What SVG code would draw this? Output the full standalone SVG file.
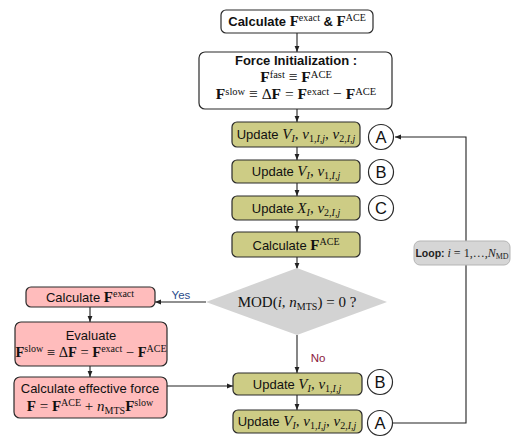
<svg xmlns="http://www.w3.org/2000/svg" width="522" height="446" viewBox="0 0 522 446">
<defs>
<marker id="ah" viewBox="0 0 10 10" refX="10" refY="5" markerWidth="6" markerHeight="6" orient="auto" markerUnits="userSpaceOnUse">
<path d="M0,1 L10,5 L0,9 z" fill="#222"/>
</marker>
<style>
.box{stroke:#2a2a2a;stroke-width:1.2}
.w{fill:#ffffff}
.o{fill:#cdcc85}
.p{fill:#ffbcbc}
.t{font-family:"Liberation Sans",Arial,sans-serif;font-size:13px;fill:#111;text-anchor:middle}
.m{font-family:"Liberation Serif","Times New Roman",serif}
.b{font-weight:bold}
.i{font-style:italic}
.s{font-size:10px}
.c{fill:#fff;stroke:#2a2a2a;stroke-width:1.2}
.cl{font-family:"Liberation Sans",Arial,sans-serif;font-size:16.5px;fill:#111;text-anchor:middle}
.ln{stroke:#222;stroke-width:1.1;fill:none}
.mx{font-size:15px}
.ev{font-size:14.5px}
.big{font-size:15.5px}
.bs{font-size:10.5px}
</style>
</defs>
<rect width="522" height="446" fill="#fff"/>

<g id="connectors">
<line class="ln" x1="297" y1="33" x2="297" y2="52" marker-end="url(#ah)"/>
<line class="ln" x1="297" y1="109" x2="297" y2="122" marker-end="url(#ah)"/>
<line class="ln" x1="297" y1="147" x2="297" y2="160" marker-end="url(#ah)"/>
<line class="ln" x1="297" y1="183" x2="297" y2="196" marker-end="url(#ah)"/>
<line class="ln" x1="297" y1="220" x2="297" y2="232" marker-end="url(#ah)"/>
<line class="ln" x1="297" y1="257" x2="297" y2="269" marker-end="url(#ah)"/>
<line class="ln" x1="297" y1="335" x2="297" y2="373" marker-end="url(#ah)"/>
<line class="ln" x1="297" y1="395" x2="297" y2="410" marker-end="url(#ah)"/>
<line class="ln" x1="206" y1="302" x2="155" y2="302" marker-end="url(#ah)"/>
<line class="ln" x1="90" y1="307" x2="90" y2="322" marker-end="url(#ah)"/>
<line class="ln" x1="90" y1="366" x2="90" y2="377" marker-end="url(#ah)"/>
<line class="ln" x1="167" y1="386" x2="233" y2="386" marker-end="url(#ah)"/>
<polyline class="ln" points="393,423 466,423 466,137 395,137" marker-end="url(#ah)"/>
<text x="181" y="299" style="font-family:'Liberation Sans',Arial,sans-serif;font-size:11.5px;fill:#2b4c8c;text-anchor:middle">Yes</text>
<text x="318" y="362" style="font-family:'Liberation Sans',Arial,sans-serif;font-size:11.5px;fill:#8b1a3c;text-anchor:middle">No</text>
</g>

<g id="calc-exact-ace">
<rect class="box w" x="221" y="10" width="152" height="23" rx="5"/>
<text class="t b" x="297" y="26">Calculate <tspan class="m mx">F</tspan><tspan class="m s" font-weight="normal" dy="-5">exact</tspan><tspan dy="5"> &amp; </tspan><tspan class="m mx">F</tspan><tspan class="m s" font-weight="normal" dy="-5">ACE</tspan></text>
</g>

<g id="force-init">
<rect class="box w" x="199" y="52" width="193" height="57" rx="6"/>
<text class="t b" x="296" y="65">Force Initialization :</text>
<text class="t m big" x="296" y="82"><tspan class="b">F</tspan><tspan class="bs" dy="-4.5">fast</tspan><tspan dy="4.5"> ≡ </tspan><tspan class="b">F</tspan><tspan class="bs" dy="-4.5">ACE</tspan></text>
<text class="t m big" x="296" y="99"><tspan class="b">F</tspan><tspan class="bs" dy="-4.5">slow</tspan><tspan dy="4.5"> ≡ Δ</tspan><tspan class="b">F</tspan><tspan> = </tspan><tspan class="b">F</tspan><tspan class="bs" dy="-4.5">exact</tspan><tspan dy="4.5"> − </tspan><tspan class="b">F</tspan><tspan class="bs" dy="-4.5">ACE</tspan></text>
</g>

<g id="update-a1">
<rect class="box o" x="232" y="122" width="128" height="25" rx="5"/>
<text class="t" x="296" y="139">Update <tspan class="m i mx">V</tspan><tspan class="m i s" dy="3">I</tspan><tspan class="m mx" dy="-3">, </tspan><tspan class="m i mx">v</tspan><tspan class="m s" dy="3">1,<tspan class="i">I</tspan>,<tspan class="i">j</tspan></tspan><tspan class="m mx" dy="-3">, </tspan><tspan class="m i mx">v</tspan><tspan class="m s" dy="3">2,<tspan class="i">I</tspan>,<tspan class="i">j</tspan></tspan></text>
</g>
<g id="circle-a1">
<circle class="c" cx="381" cy="137" r="12.5"/>
<text class="cl" x="381" y="143">A</text>
</g>

<g id="update-b1">
<rect class="box o" x="232" y="160" width="128" height="23" rx="5"/>
<text class="t" x="296" y="176">Update <tspan class="m i mx">V</tspan><tspan class="m i s" dy="3">I</tspan><tspan class="m mx" dy="-3">, </tspan><tspan class="m i mx">v</tspan><tspan class="m s" dy="3">1,<tspan class="i">I</tspan>,<tspan class="i">j</tspan></tspan></text>
</g>
<g id="circle-b1">
<circle class="c" cx="381" cy="172" r="12.5"/>
<text class="cl" x="381" y="178">B</text>
</g>

<g id="update-c">
<rect class="box o" x="232" y="196" width="128" height="24" rx="5"/>
<text class="t" x="296" y="213">Update <tspan class="m i mx">X</tspan><tspan class="m i s" dy="3">I</tspan><tspan class="m mx" dy="-3">, </tspan><tspan class="m i mx">v</tspan><tspan class="m s" dy="3">2,<tspan class="i">I</tspan>,<tspan class="i">j</tspan></tspan></text>
</g>
<g id="circle-c">
<circle class="c" cx="381" cy="208" r="12.5"/>
<text class="cl" x="381" y="214">C</text>
</g>

<g id="calc-ace">
<rect class="box o" x="232" y="232" width="128" height="25" rx="5"/>
<text class="t" x="296" y="250">Calculate <tspan class="m b mx">F</tspan><tspan class="m s" dy="-5">ACE</tspan></text>
</g>

<g id="decision">
<polygon points="297,268 387,302 297,335 206,302" fill="#d3d3d3"/>
<text class="m" x="297" y="307" style="font-size:15px;fill:#111;text-anchor:middle">MOD(<tspan class="i">i</tspan>, <tspan class="i">n</tspan><tspan style="font-size:10px" dy="3">MTS</tspan><tspan dy="-3">) = 0 ?</tspan></text>
</g>

<g id="calc-exact">
<rect class="box p" x="26" y="287" width="129" height="20" rx="5"/>
<text class="t" x="90" y="302">Calculate <tspan class="m b mx">F</tspan><tspan class="m s" dy="-5">exact</tspan></text>
</g>

<g id="evaluate">
<rect class="box p" x="15" y="322" width="152" height="44" rx="6"/>
<text class="t" x="91" y="340">Evaluate</text>
<text class="t m ev" x="91" y="357"><tspan class="b">F</tspan><tspan class="s" dy="-5">slow</tspan><tspan dy="5"> ≡ Δ</tspan><tspan class="b">F</tspan><tspan> = </tspan><tspan class="b">F</tspan><tspan class="s" dy="-5">exact</tspan><tspan dy="5"> − </tspan><tspan class="b">F</tspan><tspan class="s" dy="-5">ACE</tspan></text>
</g>

<g id="effective-force">
<rect class="box p" x="14" y="377" width="153" height="41" rx="6"/>
<text class="t" x="90" y="393">Calculate effective force</text>
<text class="t m mx" x="90" y="411"><tspan class="b">F</tspan><tspan> = </tspan><tspan class="b">F</tspan><tspan class="s" dy="-5">ACE</tspan><tspan dy="5"> + </tspan><tspan class="i">n</tspan><tspan class="s" dy="3">MTS</tspan><tspan class="b" dy="-3">F</tspan><tspan class="s" dy="-5">slow</tspan></text>
</g>

<g id="update-b2">
<rect class="box o" x="233" y="373" width="129" height="22" rx="5"/>
<text class="t" x="297" y="389">Update <tspan class="m i mx">V</tspan><tspan class="m i s" dy="3">I</tspan><tspan class="m mx" dy="-3">, </tspan><tspan class="m i mx">v</tspan><tspan class="m s" dy="3">1,<tspan class="i">I</tspan>,<tspan class="i">j</tspan></tspan></text>
</g>
<g id="circle-b2">
<circle class="c" cx="380" cy="382" r="12.5"/>
<text class="cl" x="380" y="388">B</text>
</g>

<g id="update-a2">
<rect class="box o" x="233" y="410" width="129" height="23" rx="5"/>
<text class="t" x="297" y="426">Update <tspan class="m i mx">V</tspan><tspan class="m i s" dy="3">I</tspan><tspan class="m mx" dy="-3">, </tspan><tspan class="m i mx">v</tspan><tspan class="m s" dy="3">1,<tspan class="i">I</tspan>,<tspan class="i">j</tspan></tspan><tspan class="m mx" dy="-3">, </tspan><tspan class="m i mx">v</tspan><tspan class="m s" dy="3">2,<tspan class="i">I</tspan>,<tspan class="i">j</tspan></tspan></text>
</g>
<g id="circle-a2">
<circle class="c" cx="380" cy="423" r="12.5"/>
<text class="cl" x="380" y="429">A</text>
</g>

<g id="loop-label">
<rect x="414" y="241" width="96" height="24" rx="6" fill="#d6d6d6" stroke="#b5b5b5" stroke-width="1"/>
<text x="462" y="257" style="font-family:'Liberation Sans',Arial,sans-serif;font-size:10.5px;font-weight:bold;fill:#222;text-anchor:middle">Loop: <tspan class="m i" font-weight="normal" style="font-size:12px">i</tspan><tspan class="m" font-weight="normal" style="font-size:12px"> = 1,…,</tspan><tspan class="m i" font-weight="normal" style="font-size:12px">N</tspan><tspan class="m" font-weight="normal" style="font-size:8px" dy="2">MD</tspan></text>
</g>
</svg>
